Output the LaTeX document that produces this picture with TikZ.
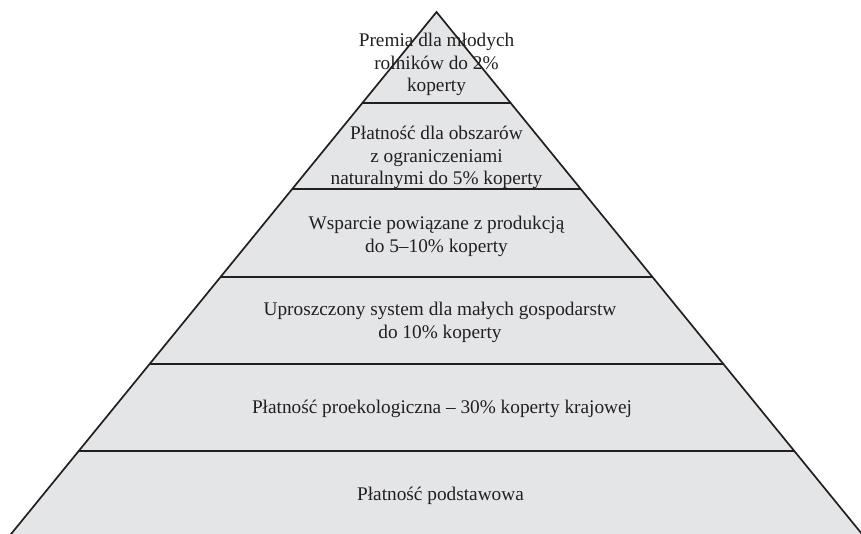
\documentclass[tikz,border=0pt]{standalone}
\usepackage{fontspec}
\setmainfont{Liberation Serif}
\usetikzlibrary{calc}
\definecolor{pyrfill}{HTML}{E4E5E7}
\definecolor{pyrline}{HTML}{231F20}
\definecolor{pyrtext}{HTML}{231F20}
\tikzset{
  edge/.style={draw=pyrline, line width=1.7pt, line join=miter},
  band/.style={draw=pyrline, line width=1.8pt},
  lbl/.style={align=center, text=pyrtext, inner sep=0pt, font=\fontsize{19.3}{22.8}\selectfont}
}
\begin{document}
\begin{tikzpicture}[x=1pt,y=-1pt]
\useasboundingbox (0,0) rectangle (861,533);
\clip (0,0) rectangle (861,533);
\coordinate (apex) at (436.5,12);
\coordinate (bl) at (7.8,538);
\coordinate (br) at (865.2,538);
\fill[pyrfill] (apex) -- (bl) -- (br) -- cycle;
% band separators
\foreach \y [count=\i] in {103,189,277,364,451}{
  \pgfmathsetmacro{\t}{(\y-12)/526}
  \coordinate (l\i) at ($(apex)!\t!(bl)$);
  \coordinate (r\i) at ($(apex)!\t!(br)$);
  \draw[band] (l\i) -- (r\i);
}
\node[lbl] (t1) at (436.5,64.5) {Premia dla młodych\\rolników do 2\%\\koperty};
\node[lbl] (t2) at (436.5,157.5) {Płatność dla obszarów\\z ograniczeniami\\naturalnymi do 5\% koperty};
\node[lbl] (t3) at (436.5,236) {Wsparcie powiązane z produkcją\\do 5–10\% koperty};
\node[lbl] (t4) at (440,322.5) {Uproszczony system dla małych gospodarstw\\do 10\% koperty};
\node[lbl] (t5) at (442,408.5) {Płatność proekologiczna – 30\% koperty krajowej};
\node[lbl] (t6) at (440.5,495.5) {Płatność podstawowa};
\draw[edge] (bl) -- (apex) -- (br);
\end{tikzpicture}
\end{document}
